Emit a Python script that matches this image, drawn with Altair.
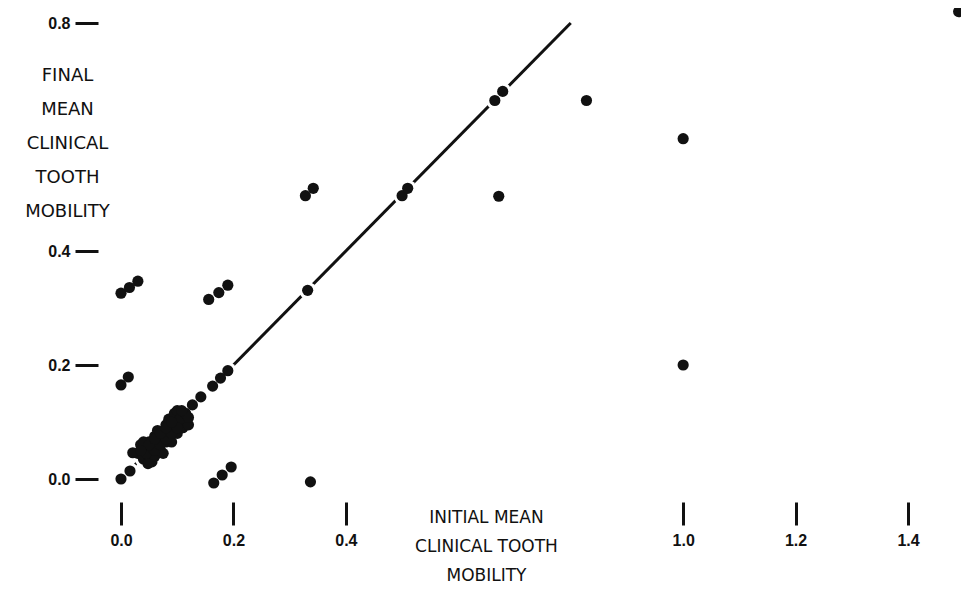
import altair as alt
import pandas as pd

# identity reference line
line_x = [0.0, 0.8]
line_y = [0.0, 0.8]

# scatter points (initial, final)
pt_x = [
    # off-diagonal groups
    0.0, 0.015, 0.03,
    0.156, 0.174, 0.19,
    0.0, 0.013,
    0.165, 0.18, 0.196,
    0.337,
    0.328, 0.342,
    0.672,
    0.828,
    1.0,
    1.0,
    1.49,
    # on the diagonal
    0.0, 0.016, 0.127, 0.142, 0.163, 0.177, 0.19, 0.332, 0.5, 0.51, 0.665, 0.679,
    # dense cluster near the origin
    0.03, 0.04, 0.045, 0.05, 0.055, 0.04, 0.05, 0.055, 0.06, 0.065, 0.06, 0.07,
    0.07, 0.065, 0.075, 0.08, 0.075, 0.085, 0.08, 0.09, 0.085, 0.095, 0.09, 0.1,
    0.1, 0.095, 0.105, 0.11, 0.11, 0.115, 0.1, 0.035, 0.048, 0.12, 0.021, 0.04,
    0.045, 0.055, 0.065, 0.075, 0.085, 0.105, 0.06, 0.07, 0.08, 0.09, 0.1, 0.05,
    0.06, 0.07, 0.08, 0.09, 0.115, 0.035, 0.12, 0.108,
]
pt_y = [
    0.326, 0.336, 0.347,
    0.315, 0.327, 0.34,
    0.165, 0.179,
    -0.007, 0.007, 0.021,
    -0.005,
    0.497, 0.51,
    0.496,
    0.664,
    0.597,
    0.2,
    0.82,
    0.0, 0.014, 0.13, 0.144, 0.163, 0.177, 0.19, 0.331, 0.497, 0.51, 0.664, 0.68,
    0.045, 0.035, 0.055, 0.04, 0.03, 0.06, 0.065, 0.05, 0.04, 0.06, 0.075, 0.05,
    0.07, 0.085, 0.08, 0.065, 0.045, 0.075, 0.095, 0.085, 0.105, 0.095, 0.065, 0.08,
    0.105, 0.115, 0.1, 0.09, 0.11, 0.1, 0.12, 0.06, 0.027, 0.095, 0.046, 0.065,
    0.045, 0.055, 0.065, 0.075, 0.085, 0.105, 0.05, 0.06, 0.07, 0.08, 0.09, 0.06,
    0.07, 0.08, 0.09, 0.1, 0.115, 0.05, 0.108, 0.12,
]

x_ticks = [0.0, 0.2, 0.4, 1.0, 1.2, 1.4]
y_ticks = [0.0, 0.2, 0.4, 0.8]

x_title = ["INITIAL MEAN", "CLINICAL TOOTH", "MOBILITY"]
y_title = ["FINAL", "MEAN", "CLINICAL", "TOOTH", "MOBILITY"]

INK = "#111111"

pts = pd.DataFrame({"x": pt_x, "y": pt_y})
ln = pd.DataFrame({"x": line_x, "y": line_y})

xs = alt.Scale(domain=[0, 1.48], nice=False, zero=False)
ys = alt.Scale(domain=[0, 0.8], nice=False, zero=False)

x_axis = alt.Axis(
    values=x_ticks, format=".1f", domain=False, grid=False,
    offset=23, tickSize=23, tickWidth=3, tickColor=INK,
    labelFont="Liberation Sans", labelFontWeight="bold", labelFontSize=16,
    labelColor=INK, labelPadding=7, labelFlush=False,
    title=x_title, titleFont="DejaVu Sans", titleFontWeight="normal",
    titleFontSize=17, titleColor=INK, titleLineHeight=29,
    titleX=365, titleY=20, titleAlign="center", titleBaseline="alphabetic",
)
y_axis = alt.Axis(
    values=y_ticks, format=".1f", domain=False, grid=False,
    offset=23, tickSize=23, tickWidth=3, tickColor=INK,
    labelFont="Liberation Sans", labelFontWeight="bold", labelFontSize=16,
    labelColor=INK, labelPadding=5, labelFlush=False,
    title=y_title, titleFont="DejaVu Sans", titleFontWeight="normal",
    titleFontSize=18, titleColor=INK, titleLineHeight=34, titleAngle=0,
    titleX=-31, titleY=57, titleAlign="center", titleBaseline="alphabetic",
)

x_enc = alt.X("x:Q", scale=xs, axis=x_axis)
y_enc = alt.Y("y:Q", scale=ys, axis=y_axis)

line = alt.Chart(ln).mark_line(color=INK, strokeWidth=3).encode(x=x_enc, y=y_enc)
halo = alt.Chart(pts).mark_circle(color="white", size=300, opacity=1).encode(x=x_enc, y=y_enc)
dots = alt.Chart(pts).mark_circle(color=INK, size=125, opacity=1).encode(x=x_enc, y=y_enc)

chart = (
    alt.layer(line, halo, dots)
    .properties(
        width=832, height=456,
        autosize=alt.AutoSizeParams(type="none"),
        padding={"left": 113, "top": 15, "right": 8, "bottom": 107},
        background="white",
    )
    .configure_view(stroke=None)
)

chart.save("out.html", embed_options={"renderer": "svg", "actions": False})
